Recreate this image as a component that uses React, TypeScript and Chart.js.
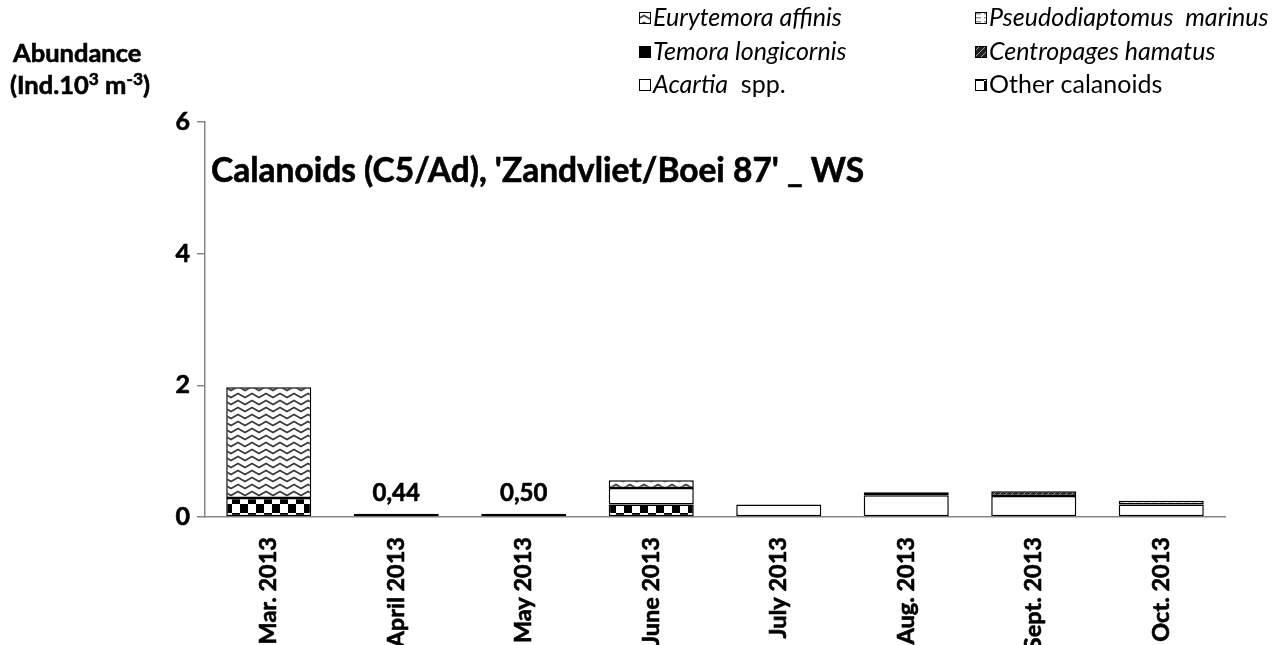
import React, { useEffect, useRef } from "react";
import { Chart, registerables } from "chart.js";
Chart.register(...registerables);

const categories = ["Mar. 2013", "April 2013", "May 2013", "June 2013", "July 2013", "Aug. 2013", "Sept. 2013", "Oct. 2013"];
const otherCalanoids = [0.29, null, null, 0.19, null, null, null, null];
const acartia = [null, null, null, 0.25, 0.19, 0.33, 0.32, 0.19];
const temora = [null, 0.05, null, null, null, null, null, null];
const centropages = [null, null, null, null, null, 0.045, 0.07, null];
const pseudodiaptomus = [null, null, 0.05, null, null, null, null, 0.055];
const eurytemora = [1.68, null, null, 0.12, null, null, null, null];
const yTickStep = 2;
const yMax = 6;
const barLabels = ["", "0,44", "0,50", "", "", "", "", ""];
const titleText = "Calanoids (C5/Ad), 'Zandvliet/Boei 87' _ WS";
const yTitleLine1 = [{ text: "Abundance" }];
const yTitleLine2 = [
  { text: "(Ind.10" },
  { text: "3", sup: true },
  { text: " m" },
  { text: "-3", sup: true },
  { text: ")" },
];

const FONT = "Lato";

type Part = { text: string; italic?: boolean; sup?: boolean };

function makePattern(kind: string): CanvasPattern | string {
  if (kind.startsWith("#")) return kind;
  const c = document.createElement("canvas");
  const ctx = c.getContext("2d")!;
  if (kind === "zigzag") {
    c.width = 14; c.height = 7;
    ctx.fillStyle = "#fff"; ctx.fillRect(0, 0, 14, 7);
    ctx.strokeStyle = "#3a3a3a"; ctx.lineWidth = 1.6;
    ctx.beginPath();
    ctx.moveTo(-3.5, 3.5); ctx.lineTo(0, 1.5); ctx.lineTo(7, 5.5); ctx.lineTo(14, 1.5); ctx.lineTo(17.5, 3.5);
    ctx.stroke();
  } else if (kind === "checker") {
    c.width = 16; c.height = 18;
    ctx.fillStyle = "#fff"; ctx.fillRect(0, 0, 16, 18);
    ctx.fillStyle = "#000";
    ctx.fillRect(0, 0, 8, 9); ctx.fillRect(8, 9, 8, 9);
  } else if (kind === "dark") {
    c.width = 6; c.height = 6;
    ctx.fillStyle = "#222"; ctx.fillRect(0, 0, 6, 6);
    ctx.strokeStyle = "#999"; ctx.lineWidth = 1;
    ctx.beginPath(); ctx.moveTo(0, 6); ctx.lineTo(6, 0); ctx.stroke();
  } else {
    c.width = 8; c.height = 4;
    ctx.fillStyle = "#fff"; ctx.fillRect(0, 0, 8, 4);
    ctx.fillStyle = "#999";
    ctx.fillRect(0, 1, 5, 1.5);
  }
  return ctx.createPattern(c, "repeat") || "#fff";
}

const legendEntries: { parts: Part[]; pattern: string }[] = [
  { parts: [{ text: "Eurytemora affinis", italic: true }], pattern: "zigzag" },
  { parts: [{ text: "Temora longicornis", italic: true }], pattern: "#000" },
  { parts: [{ text: "Acartia", italic: true }, { text: "  spp." }], pattern: "#fff" },
  { parts: [{ text: "Pseudodiaptomus  marinus", italic: true }], pattern: "light" },
  { parts: [{ text: "Centropages hamatus", italic: true }], pattern: "dark" },
  { parts: [{ text: "Other calanoids" }], pattern: "checker" },
];

function drawParts(ctx: CanvasRenderingContext2D, parts: Part[], x: number, y: number, size: number, bold: boolean, supScale = 0.65) {
  let cx = x;
  for (const p of parts) {
    const s = p.sup ? size * supScale : size;
    ctx.font = `${p.italic ? "italic " : ""}${bold ? "bold " : ""}${s}px ${FONT}`;
    const ty = p.sup ? y - size * 0.36 : y;
    if (bold) {
      ctx.lineWidth = 0.6;
      ctx.strokeStyle = "#000";
      ctx.strokeText(p.text, cx, ty);
    }
    ctx.fillText(p.text, cx, ty);
    cx += ctx.measureText(p.text).width;
  }
}

export default function App() {
  const ref = useRef<HTMLCanvasElement>(null);
  useEffect(() => {
    const patterns: Record<string, CanvasPattern | string> = {};
    for (const k of ["zigzag", "checker", "dark", "light", "#000", "#fff"]) patterns[k] = makePattern(k);
    const series = [otherCalanoids, acartia, temora, centropages, pseudodiaptomus, eurytemora];

    const overlay = {
      id: "overlay",
      afterDraw(chart: any) {
        const ctx: CanvasRenderingContext2D = chart.ctx;
        const xs = chart.scales.x;
        const ys = chart.scales.y;
        ctx.save();
        ctx.fillStyle = "#000";
        ctx.textBaseline = "alphabetic";
        ctx.textAlign = "left";
        drawParts(ctx, [{ text: titleText }], chart.chartArea.left + 6, 182, 33.5, true);
        drawParts(ctx, yTitleLine1, 13, 62, 25.5, true);
        drawParts(ctx, yTitleLine2, 10, 94, 25.5, true, 0.68);
        ctx.textAlign = "center";
        barLabels.forEach((t, i) => {
          if (!t) return;
          const total = series.reduce((a, s) => a + (s[i] || 0), 0);
          ctx.font = `bold 24px ${FONT}`;
          const x = xs.getPixelForValue(i);
          const y = ys.getPixelForValue(total) - 13;
          ctx.lineWidth = 0.6;
          ctx.strokeText(t, x, y);
          ctx.fillText(t, x, y);
        });
        ctx.textAlign = "left";
        const colX = [639, 975];
        const rowY = [18, 52, 85];
        legendEntries.forEach((e, i) => {
          const col = Math.floor(i / 3);
          const row = i % 3;
          const bx = colX[col];
          const by = rowY[row];
          ctx.fillStyle = patterns[e.pattern] as any;
          ctx.fillRect(bx, by - 6, 12, 12);
          ctx.strokeStyle = "#000";
          ctx.lineWidth = 1;
          ctx.strokeRect(bx + 0.5, by - 5.5, 11, 11);
          ctx.fillStyle = "#000";
          drawParts(ctx, e.parts, bx + 14, by + 8, 25, false);
        });
        ctx.restore();
      },
    };

    const ds = (label: string, data: (number | null)[], pat: string) => ({
      label,
      data,
      backgroundColor: patterns[pat] as any,
      borderColor: "#000",
      borderWidth: 1.5,
      borderSkipped: false,
      categoryPercentage: 1,
      barPercentage: 0.667,
    });

    const chart = new Chart(ref.current!, {
      type: "bar",
      data: {
        labels: categories,
        datasets: [
          ds("Other calanoids", otherCalanoids, "checker"),
          ds("Acartia spp.", acartia, "#fff"),
          ds("Temora longicornis", temora, "#000"),
          ds("Centropages hamatus", centropages, "dark"),
          ds("Pseudodiaptomus marinus", pseudodiaptomus, "light"),
          ds("Eurytemora affinis", eurytemora, "zigzag"),
        ] as any,
      },
      options: {
        animation: false,
        responsive: false,
        layout: { padding: { left: 0, top: 122, right: 53, bottom: 0 } },
        plugins: { legend: { display: false }, tooltip: { enabled: false }, title: { display: false } },
        scales: {
          x: {
            stacked: true,
            grid: { display: false },
            border: { display: true, color: "#868686", width: 1.5 },
            ticks: {
              maxRotation: 90,
              minRotation: 90,
              padding: 12,
              color: "#000",
              textStrokeColor: "#000",
              textStrokeWidth: 0.6,
              font: { family: FONT, weight: "bold", size: 23.5 },
            },
            afterFit: (s: any) => { s.height = 128; },
          },
          y: {
            stacked: true,
            min: 0,
            max: yMax,
            ticks: {
              stepSize: yTickStep,
              color: "#000",
              textStrokeColor: "#000",
              textStrokeWidth: 0.6,
              padding: 7,
              font: { family: FONT, weight: "bold", size: 25 },
            },
            grid: { drawOnChartArea: false, drawTicks: true, tickLength: 8, color: "#868686", lineWidth: 1.5 },
            border: { display: true, color: "#868686", width: 1.5 },
            afterFit: (s: any) => { s.width = 205; },
          },
        },
      } as any,
      plugins: [overlay],
    });
    return () => chart.destroy();
  }, []);
  return (
    <div style={{ position: "fixed", left: 0, top: 0, width: 1278, height: 645, background: "#fff" }}>
      <canvas ref={ref} width={1278} height={645} style={{ display: "block" }} />
    </div>
  );
}
